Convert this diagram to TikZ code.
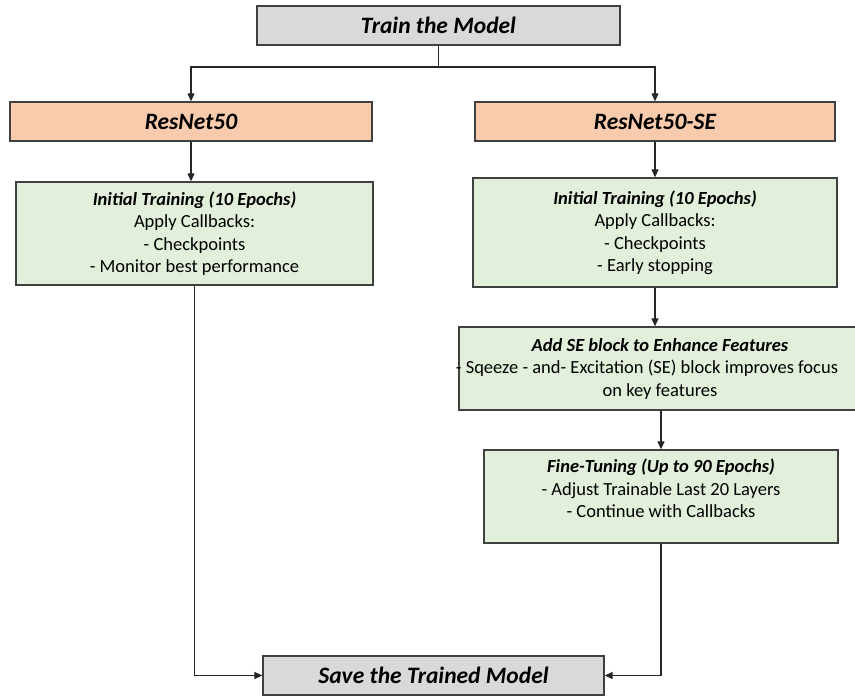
\documentclass[tikz,border=0pt]{standalone}
\usepackage{fontspec}
\setmainfont{Carlito}
\usetikzlibrary{positioning,arrows.meta}
\definecolor{ink}{HTML}{262626}
\definecolor{edge}{HTML}{404040}
\definecolor{greybox}{HTML}{D9D9D9}
\definecolor{peach}{HTML}{F8CBAD}
\definecolor{sage}{HTML}{E2EFDA}
\tikzset{
  %% nodes
  stage/.style  = {draw=edge, line width=1.3pt, fill=greybox, inner sep=0pt,
                   align=center, font=\fontsize{23.5}{28}\selectfont\bfseries\itshape},
  model/.style  = {stage, fill=peach},
  phase/.style  = {draw=edge, line width=1.3pt, fill=sage, inner sep=0pt,
                   align=center, font=\fontsize{18.5}{22.5}\selectfont},
  %% arrows
  flow/.style   = {-{Triangle[length=8pt,width=7pt]}, draw=ink, line width=1.2pt},
  link/.style   = {-, draw=ink, line width=1.2pt},
}
\newcommand{\hd}[1]{\textbf{\textit{#1}}}

\begin{document}
\begin{tikzpicture}[x=1pt, y=-1pt]
\useasboundingbox (0,0) rectangle (855,696);

%% ============ top ============
\node[stage, minimum width=363pt, minimum height=39pt] (train) at (438.5,25.5) {Train the Model};
\coordinate (split) at (438.5,67);

%% ============ two models ============
\node[model, minimum width=362pt, minimum height=39pt] (rn)   at (191,121.5) {ResNet50};
\node[model, minimum width=360pt, minimum height=39pt] (rnse) at (655,121.5) {ResNet50-SE};

%% ============ left branch ============
\node[phase, minimum width=357pt, minimum height=103pt] (initL) at (194.5,233.5)
  {\hd{Initial Training (10 Epochs)}\\ Apply Callbacks:\\ - Checkpoints\\ - Monitor best performance};

%% ============ right branch ============
\node[phase, minimum width=364pt, minimum height=109pt] (initR) at (655,232.5)
  {\hd{Initial Training (10 Epochs)}\\ Apply Callbacks:\\ - Checkpoints\\ - Early stopping};
\node[phase, minimum width=402pt, minimum height=83pt] (se) at (660,368.5)
  {\hd{Add SE block to Enhance Features}\\ \hspace*{-26pt}- Sqeeze - and- Excitation (SE) block improves focus\\ on key features};
\node[phase, minimum width=354pt, minimum height=93pt] (fine) at (661,496.5) {};
\node[phase, draw=none, fill=none, anchor=north] (finetxt) at ([yshift=-9pt]fine.north)
  {\hd{Fine-Tuning (Up to 90 Epochs)}\\ - Adjust Trainable Last 20 Layers\\ - Continue with Callbacks};

%% ============ bottom ============
\node[stage, minimum width=341pt, minimum height=39pt] (save) at (433.5,675.5) {Save the Trained Model};

%% connectors
\draw[link] (train.south) -- (split);
\draw[flow] (split) -| (rn.north);
\draw[flow] (split) -| (rnse.north);
\draw[flow] (rn.south) -- (rn.south |- initL.north);
\draw[flow] (rnse.south) -- (rnse.south |- initR.north);
\draw[flow] (initR.south) -- (initR.south |- se.north);
\draw[flow] (fine.north |- se.south) -- (fine.north);
\draw[flow] (initL.south) |- (save.west);
\draw[flow] (fine.south) |- (save.east);

\end{tikzpicture}
\end{document}
